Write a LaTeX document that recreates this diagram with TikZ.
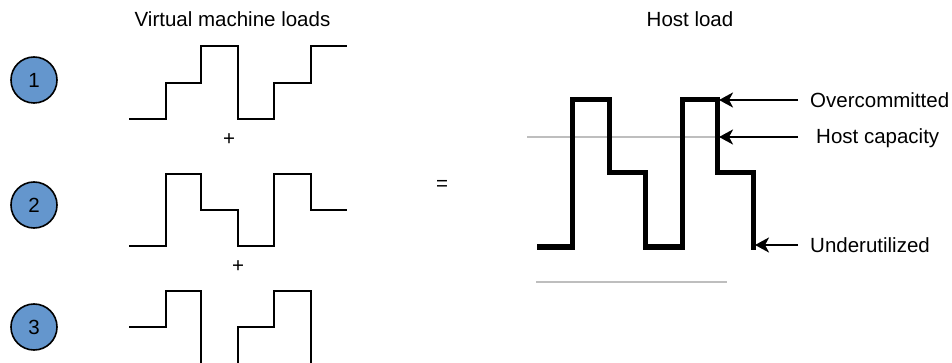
\documentclass[tikz,border=0pt]{standalone}
\usepackage{fontspec}
\setmainfont{Liberation Sans}
\usetikzlibrary{arrows.meta}
\definecolor{circblue}{RGB}{100,150,205}
\definecolor{capgray}{RGB}{190,190,190}
\begin{document}
\begin{tikzpicture}[x=1pt,y=-1pt,
  every node/.style={font=\fontsize{20.5}{24}\selectfont},
  num/.style={circle,draw=black,line width=1.6pt,fill=circblue,minimum size=46pt,inner sep=0pt},
  wave/.style={line width=1.9pt,line join=miter},
  hostwave/.style={line width=5pt,line join=miter},
  grayline/.style={capgray,line width=1.6pt},
  lbl/.style={anchor=west,inner sep=0pt},
  arr/.style={line width=2.6pt,-{Stealth[length=14pt,width=15pt,inset=4pt]}}]
\useasboundingbox (0,0) rectangle (952,363);
% titles
\node[anchor=base] (t1) at (232.5,27) {Virtual machine loads};
\node[anchor=base] (t2) at (690,27) {Host load};
% circles
\node[num] (c1) at (34,80) {1};
\node[num] (c2) at (34,205) {2};
\node[num] (c3) at (34,327) {3};
% VM waves
\draw[wave] (129,119) -- (166,119) -- (166,83) -- (201,83) -- (201,46) -- (238,46) -- (238,119) -- (274,119) -- (274,83) -- (311,83) -- (311,46) -- (347,46);
\draw[wave] (129,246) -- (166,246) -- (166,174) -- (201,174) -- (201,210) -- (238,210) -- (238,246) -- (274,246) -- (274,174) -- (311,174) -- (311,210) -- (347,210);
\draw[wave] (129,327) -- (166,327) -- (166,291) -- (201,291) -- (201,366);
\draw[wave] (238,366) -- (238,327) -- (274,327) -- (274,291) -- (311,291) -- (311,366);
% operators
\node (p1) at (229,140) {+};
\node (p2) at (238,267) {+};
\node (eq) at (442,185) {=};
% host
\draw[grayline] (527,137) -- (718,137);
\draw[grayline] (536,282) -- (727,282);
\draw[hostwave] (537,247) -- (572,247) -- (572,100) -- (609,100) -- (609,173) -- (645,173) -- (645,247) -- (682,247) -- (682,100) -- (717,100) -- (717,173) -- (753,173) -- (753,249.5);
% labels
\node[lbl] (ov) at (810,100) {Overcommitted};
\node[lbl] (hc) at (816,138) {Host capacity};
\node[lbl] (un) at (810,245) {Underutilized};
\coordinate (ovs) at (798,100);
\coordinate (hcs) at (798,137);
\coordinate (uns) at (798,245);
\coordinate (ovt) at (719,100);
\coordinate (hct) at (719,137);
\coordinate (unt) at (755,245);
\draw[arr] (ovs) -- (ovt);
\draw[arr] (hcs) -- (hct);
\draw[arr] (uns) -- (unt);
\end{tikzpicture}
\end{document}
